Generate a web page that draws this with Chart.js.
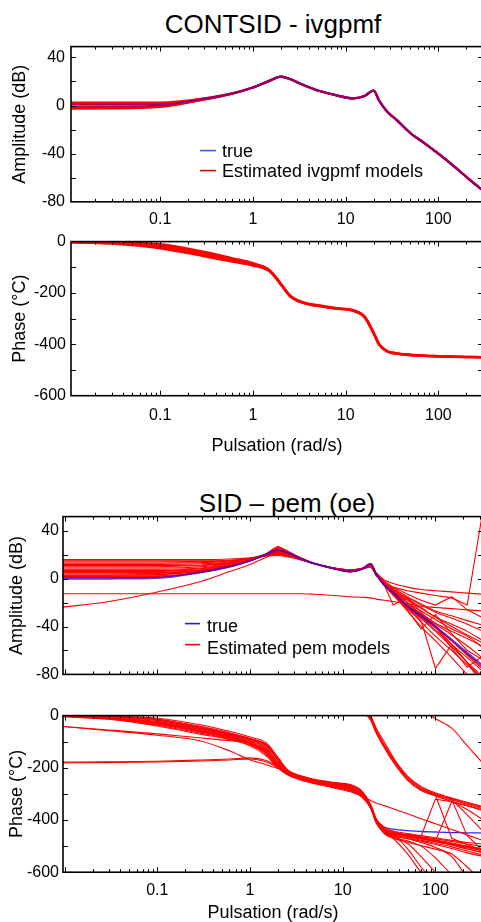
<!DOCTYPE html>
<html><head><meta charset="utf-8">
<script src="https://cdn.jsdelivr.net/npm/chart.js@4.4.1/dist/chart.umd.min.js"></script>
<style>
html,body{margin:0;padding:0;width:481px;height:922px;overflow:hidden;background:#fff;}
canvas{position:absolute;left:0;top:0;}
.title{position:absolute;font-family:"Liberation Sans",Arial,sans-serif;font-size:26px;line-height:26px;white-space:nowrap;transform:translateX(-50%);color:#000;}
</style></head><body>
<div class="title" style="left:273px;top:11px">CONTSID - ivgpmf</div>
<div class="title" style="left:287px;top:490px">SID – pem (oe)</div>
<canvas id="c1"></canvas><canvas id="c2"></canvas><canvas id="c3"></canvas><canvas id="c4"></canvas>
<script>
// ---------- data ----------
const W = [0.009, 0.03, 0.1, 0.3, 0.6, 1, 1.5, 2, 2.5, 3.5, 5, 8, 12, 16, 20, 23, 28, 35, 50, 70, 100, 150, 220, 330];

const trueAmp   = [0, 0.1, 0.6, 5.5, 10, 15, 20.5, 24, 22, 17, 12.5, 8.5, 6, 8, 12.5, 4, -5, -11.5, -23, -31, -40, -51, -62, -73];
const truePhase = [-1, -4, -15, -50, -72, -90, -112, -165, -210, -238, -249, -260, -268, -293, -355, -400, -427, -435, -441, -444, -446, -448, -449, -450];

const ivgAmp1 = [2.5, 2.5, 2.4, 6, 10.2, 15, 20.5, 24, 22, 17, 12.5, 8.5, 6, 8, 12.5, 4, -5, -11.5, -23, -31, -40, -51, -62, -73];
const ivgAmp2 = [1.2, 1.2, 1.5, 5.8, 10.1, 15, 20.5, 24, 22, 17, 12.5, 8.5, 6, 8, 12.5, 4, -5, -11.5, -23, -31, -40, -51, -62, -73];
const ivgAmp3 = [-1.2, -1.1, -0.3, 5.2, 9.9, 15, 20.5, 24, 22, 17, 12.5, 8.5, 6, 8, 12.5, 4, -5, -11.5, -23, -31, -40, -51, -62, -73];
const ivgAmp4 = [-2.5, -2.4, -1.2, 5, 9.8, 15, 20.5, 24, 22, 17, 12.5, 8.5, 6, 8, 12.5, 4, -5, -11.5, -23, -31, -40, -51, -62, -73];

const ivgPh1 = [0, -2, -10, -40, -65, -84, -110, -164, -209, -237, -248, -259, -267, -292, -354, -399, -426, -434, -440, -444, -446, -448, -449, -450];
const ivgPh2 = [-1, -4, -15, -46, -70, -88, -112, -165, -210, -238, -249, -260, -268, -293, -355, -400, -427, -435, -441, -444, -446, -448, -449, -450];
const ivgPh3 = [-1, -6, -21, -52, -75, -91, -113, -166, -211, -239, -250, -261, -269, -294, -356, -401, -428, -436, -442, -445, -447, -449, -450, -451];
const ivgPh4 = [-2, -8, -26, -57, -78, -93, -115, -167, -212, -239, -250, -261, -269, -294, -357, -402, -428, -436, -442, -445, -447, -449, -450, -451];

const pemA1  = [1, 1, 1.5, 5.5, 10, 15, 20.5, 24.5, 22, 17, 12.5, 8.5, 6, 8, 12, 4, -5, -12, -24, -33, -43, -55, -66, -78];
const pemA2  = [3, 3, 3.5, 6.5, 10.5, 15, 20, 23.5, 21.5, 17, 12.5, 8.5, 6.5, 8, 11.5, 3, -6, -13, -25, -36, -48, -60, -72, -84];
const pemA3  = [5, 5, 5, 7, 11, 15.5, 20, 23, 21, 16.5, 12.5, 9, 7, 8.5, 11, 3, -4, -10, -18, -25, -32, -38, -44, -52];
const pemA4  = [7, 7, 7, 8.5, 12, 16, 20, 22.5, 21, 16.5, 12.5, 9, 7, 8.5, 11, 4, -3, -9, -16, -22, -28, -33, -38, -44];
const pemA5  = [9, 9, 9, 10, 13, 16.5, 20, 22, 20.5, 16.5, 12.5, 9, 7, 8.5, 10.5, 3, -4, -13, -22, -30, -38, -47, -56, -67];
const pemA6  = [11, 11, 11, 11.5, 13.5, 17, 20.5, 22.5, 21, 17, 12.5, 9, 7, 8.5, 11, 4, -5, -22, -16, -28, -40, -52, -64, -76];
const pemA7  = [13, 13, 13, 13.5, 14.5, 17, 20, 21.5, 20, 16.5, 12.5, 9, 7, 8, 10, 4, -2, -7, -13, -18, -22, -15, -26, -33];
const pemA8  = [15, 15, 15, 15, 15.5, 17, 19, 20, 19, 16, 12.5, 9, 7.5, 8.5, 10, 5, -1, -4, -7, -9, -10, -11, -12, -13];
const pemA9  = [16, 16, 16, 16, 16.5, 17.5, 19, 19.5, 18.5, 16, 12.5, 9, 7, 8, 10, 3, -4, -10, -20, -30, -40, -55, -70, -82];
const pemA10 = [2, 2, 2.5, 5.5, 10.5, 15.5, 21, 26.5, 23.5, 17.5, 12.5, 8.5, 6, 8, 12.5, 4, -5, -12, -23, -32, -41, -52, -63, -75];
const pemA11 = [4, 4, 4.5, 6.5, 11, 15.5, 20.5, 25, 22, 17, 12.5, 8.5, 6, 8, 12, 4, -5, -14, -26, -42, -30, -46, -60, -68];
const pemA12 = [6, 6, 6, 7.5, 11.5, 16, 21, 27, 23, 17.5, 12.5, 8.5, 6, 8, 12, 4, -5, -11, -22, -31, -40, -58, -74, -64];
const pemA13 = [8, 8, 8, 9, 12.5, 16.5, 20.5, 23, 21.5, 17, 12.5, 8.5, 6.5, 8, 11, 3, -5, -12, -22, -29, -37, -44, -50, -57];
const pemA14 = [12, 12, 12, 12.5, 14, 17, 20, 21, 20, 16.5, 12.5, 9, 7, 8.5, 10.5, 3, -3, -8, -15, -21, -27, -31, -35, -39];
const pemA15 = [14, 14, 14, 14.5, 15, 17, 19.5, 20.5, 19.5, 16, 12.5, 9, 7, 8, 10, 3, -4, -9, -17, -24, -32, -40, -47, -54];
const pemA16 = [-24, -19, -11, -2, 6, 12, 18, 22, 21, 17, 12.5, 8.5, 6, 8, 12, 4, -5, -12, -23, -33, -44, -57, -70, -85];
const pemA17 = [-12.5, -12.5, -12.5, -12.5, -12.5, -12.5, -12.5, -12.5, -12.5, -12.5, -13, -14, -15, -15.5, -16, -17, -18, -19, -21, -23, -24, -25, -26, -27];
const pemA18 = [10, 10, 10, 11, 13, 16.5, 20.5, 23, 21, 17, 12.5, 9, 7, 8.5, 11, 3, -4, -7, -10, -12, -14, -16, -22, 60];
const pemA19 = [3, 3, 3.5, 6, 10.5, 15.5, 20.5, 24, 22, 17, 12.5, 8.5, 6, 8, 12, 4, -5, -12, -24, -35, -75, -55, -70, -90];
const pemA20 = [1.5, 1.5, 2, 5.5, 10, 15, 20.5, 25.5, 22.5, 17, 12.5, 8.5, 6, 8, 12.5, 4, -5, -13, -27, -40, -52, -66, -80, -92];
const pemA21 = [5, 5, 5, 7, 11, 15.5, 20.5, 24, 22, 17, 12.5, 8.5, 6, 8, 12, 4, -5, -11, -20, -27, -34, -42, -48, -58];

const pemP1  = [0, -3, -10, -36, -60, -82, -105, -160, -205, -230, -244, -256, -264, -288, -340, -395, -428, -442, -452, -460, -468, -478, -486, -492];
const pemP2  = [0, -5, -16, -45, -68, -90, -115, -172, -210, -236, -249, -261, -272, -298, -344, -400, -432, -445, -456, -464, -472, -482, -492, -502];
const pemP3  = [-1, -7, -22, -52, -75, -97, -125, -180, -214, -238, -252, -265, -277, -302, -347, -404, -436, -449, -460, -468, -478, -490, -502, -514];
const pemP4  = [-2, -9, -28, -58, -80, -104, -135, -188, -218, -241, -255, -269, -282, -305, -349, -406, -440, -453, -463, -472, -483, -496, -511, -525];
const pemP5  = [-3, -12, -34, -64, -86, -110, -145, -195, -222, -244, -258, -273, -287, -308, -352, -409, -444, -457, -467, -477, -489, -503, -519, -535];
const pemP6  = [-4, -14, -40, -72, -92, -116, -155, -200, -226, -247, -261, -277, -292, -311, -355, -412, -448, -461, -471, -481, -494, -509, -526, -540];
const pemP7  = [0, -6, -19, -48, -71, -93, -120, -168, -208, -234, -247, -259, -268, -292, -345, -402, -442, -470, -530, -600, -650, -680, -700, -720];
const pemP8  = [-1, -8, -25, -55, -77, -100, -130, -178, -213, -238, -251, -263, -274, -298, -348, -405, -446, -462, -490, -540, -600, -650, -680, -700];
const pemP9  = [-2, -10, -31, -61, -83, -107, -140, -190, -220, -242, -256, -270, -284, -304, -350, -407, -450, -466, -480, -500, -545, -610, -660, -700];
const pemP10 = [-1, -11, -30, -60, -84, -108, -142, -184, -216, -239, -253, -266, -279, -301, -351, -408, -447, -460, -472, -486, -505, -540, -620, -680];
const pemP11 = [0, -4, -14, -42, -66, -88, -112, -165, -207, -232, -246, -258, -266, -290, -343, -398, -435, -455, -510, -580, -640, -680, -700, -720];
const pemP12 = [-2, -13, -37, -68, -89, -113, -150, -198, -224, -245, -259, -275, -289, -309, -353, -410, -452, -470, -485, -498, -512, -530, -580, -640];
const pemP13 = [null, null, null, null, null, null, null, null, null, null, null, null, null, 30, -10, -60, -115, -170, -240, -280, -302, -322, -340, -358];
const pemP14 = [null, null, null, null, null, null, null, null, null, null, null, null, null, 40, 0, -48, -100, -160, -232, -272, -296, -316, -332, -350];
const pemP15 = [null, null, null, null, null, null, null, null, null, null, null, null, null, 20, -18, -68, -122, -178, -248, -287, -308, -330, -360, -400];
const pemP16 = [null, null, null, null, null, null, null, null, null, null, null, null, null, 35, -5, -55, -110, -165, -236, -276, -300, -325, -380, -445];
const pemP17 = [null, null, null, null, null, null, null, null, null, null, null, null, null, 25, -12, -63, -118, -174, -244, -284, -306, -318, -336, -352];
const pemP18 = [null, null, null, null, null, null, null, null, null, null, null, null, null, null, null, null, null, null, -455, -462, -320, -330, -345, -365];
const pemP19 = [null, null, null, null, null, null, null, null, null, null, null, null, null, null, null, null, null, null, null, -470, -480, -330, -345, -362];
const pemP20 = [null, null, null, null, null, null, null, null, null, null, null, null, null, null, null, null, null, null, null, -282, -305, -470, -495, -515];
const pemP21 = [null, null, null, null, null, null, null, null, null, null, null, null, null, null, null, null, null, null, null, null, -300, -322, -460, -520];
const pemP22 = [null, null, null, null, null, null, null, null, null, null, null, null, null, null, null, null, null, null, 70, 22, -12, -48, -115, -185];
const pemP23 = [-2, -9, -28, -58, -80, -104, -135, -188, -218, -241, -255, -269, -282, -306, -325, -335, -345, -357, -376, -395, -414, -436, -457, -479];
const pemP24 = [-41, -58, -75, -98, -135, -170, -188, -203, -218, -240, -254, -268, -280, -303, -348, -405, -440, -452, -462, -470, -480, -492, -505, -518];
const pemP25 = [-41, -55, -70, -86, -96, -104, -140, -190, -217, -240, -254, -268, -280, -303, -348, -405, -440, -452, -462, -470, -480, -492, -505, -518];
const pemP26 = [-178, -177, -175, -170, -166, -162, -172, -196, -214, -238, -252, -265, -277, -302, -347, -404, -436, -449, -458, -466, -476, -488, -500, -512];
const pemP27 = [-181, -180, -178, -174, -170, -166, -178, -199, -216, -240, -254, -268, -282, -305, -349, -406, -440, -453, -463, -472, -483, -496, -511, -525];

const ivgAmpSeries = [ivgAmp1, ivgAmp2, ivgAmp3, ivgAmp4];
const ivgPhSeries = [ivgPh1, ivgPh2, ivgPh3, ivgPh4];
const pemAmpSeries = [pemA1, pemA2, pemA3, pemA4, pemA5, pemA6, pemA7, pemA8, pemA9, pemA10, pemA11, pemA12, pemA13, pemA14, pemA15, pemA16, pemA17, pemA18, pemA19, pemA20, pemA21];
const pemPhSeries = [pemP1, pemP2, pemP3, pemP4, pemP5, pemP6, pemP7, pemP8, pemP9, pemP10, pemP11, pemP12, pemP13, pemP14, pemP15, pemP16, pemP17, pemP18, pemP19, pemP20, pemP21, pemP22, pemP23, pemP24, pemP25, pemP26, pemP27];
const pemAmpSharp = [pemA6, pemA7, pemA11, pemA12, pemA18, pemA19];
const pemPhSharp = [pemP18, pemP19, pemP20, pemP21];

const xTickValues = [0.1, 1, 10, 100];
const xTickLabels = ['0.1', '1', '10', '100'];
const ampTickValues = [-80, -40, 0, 40];
const ampTickLabels = ['-80', '-40', '0', '40'];
const phTickValues = [-600, -400, -200, 0];
const phTickLabels = ['-600', '-400', '-200', '0'];
const ampMarks = [-60, -40, -20, 0, 20, 40];
const phMarks = [-500, -400, -300, -200, -100];
const legend1Labels = ['true', 'Estimated ivgpmf models'];
const legend2Labels = ['true', 'Estimated pem models'];

// ---------- rendering ----------
const FONT = "'Liberation Sans', Arial, Helvetica, sans-serif";
const RED = '#ff0000';
Chart.defaults.font.family = FONT;
Chart.defaults.color = '#000';
Chart.defaults.animation = false;

const xMarks = [];
for (let e = -3; e <= 3; e++) for (let m = 1; m <= 9; m++) xMarks.push({v: m * Math.pow(10, e), major: m === 1});

// note: Chart.js paints the first dataset on top
function ds(vals, color, width, sharp) {
  const d = {data: W.map((w, i) => ({x: w, y: vals[i]})), borderColor: color, borderWidth: width,
    pointRadius: 0, fill: false, spanGaps: false};
  if (sharp) { d.tension = 0; } else { d.cubicInterpolationMode = 'monotone'; }
  return d;
}

function framePlugin(target, yMarks, legend) {
  return {id: 'frame', afterDraw(chart) {
    const ctx = chart.ctx, a = chart.chartArea, x = chart.scales.x, y = chart.scales.y;
    ctx.save();
    ctx.strokeStyle = '#000'; ctx.lineWidth = 1;
    ctx.beginPath();
    for (const t of xMarks) {
      const px = Math.round(x.getPixelForValue(t.v)) + 0.5;
      if (px <= a.left + 1 || px >= a.right - 1) continue;
      const L = t.major ? 5 : 3;
      ctx.moveTo(px, a.bottom); ctx.lineTo(px, a.bottom - L);
      ctx.moveTo(px, a.top); ctx.lineTo(px, a.top + L);
    }
    for (const v of yMarks) {
      const py = Math.round(y.getPixelForValue(v)) + 0.5;
      if (py <= a.top + 1 || py >= a.bottom - 1) continue;
      ctx.moveTo(a.left, py); ctx.lineTo(a.left + 5, py);
      ctx.moveTo(a.right, py); ctx.lineTo(a.right - 5, py);
    }
    ctx.stroke();
    ctx.lineWidth = 1.6;
    ctx.strokeRect(a.left, a.top, a.right - a.left, a.bottom - a.top);
    if (legend) {
      const cx = v => v - target.x + a.left, cy = v => v - target.y + a.top;
      ctx.font = '18px ' + FONT; ctx.textBaseline = 'middle'; ctx.textAlign = 'left'; ctx.fillStyle = '#000';
      legend.labels.forEach((txt, i) => {
        ctx.strokeStyle = legend.colors[i]; ctx.lineWidth = 1.6;
        ctx.beginPath(); ctx.moveTo(cx(legend.x0), cy(legend.lineY[i])); ctx.lineTo(cx(legend.x1), cy(legend.lineY[i])); ctx.stroke();
        ctx.fillText(txt, cx(legend.tx), cy(legend.textY[i]));
      });
    }
    ctx.restore();
  }};
}

function makeConfig(p) {
  return {
    type: 'line',
    data: {datasets: p.datasets},
    options: {
      responsive: false, maintainAspectRatio: false, devicePixelRatio: 1, animation: false,
      layout: {padding: 0},
      plugins: {legend: {display: false}, tooltip: {enabled: false}, title: {display: false}},
      scales: {
        x: {type: 'logarithmic', min: p.xmin, max: p.xmax, position: 'bottom',
          afterBuildTicks: s => { s.ticks = xTickValues.map(v => ({value: v})); },
          ticks: {display: p.showX, autoSkip: false, maxRotation: 0, padding: p.xPad, color: '#000',
            font: {size: 16, family: FONT}, callback: v => xTickLabels[xTickValues.indexOf(v)]},
          grid: {display: false, drawTicks: false}, border: {display: false},
          title: {display: p.showXTitle, text: 'Pulsation (rad/s)', color: '#000', font: {size: 18, family: FONT},
            padding: {top: p.xTitlePad, bottom: 0}}},
        y: {type: 'linear', min: p.ymin, max: p.ymax,
          afterBuildTicks: s => { s.ticks = p.yTicks.map(v => ({value: v})); },
          afterFit: s => { s.width = p.target.x; },
          ticks: {padding: p.yPad, color: '#000', font: {size: 16, family: FONT},
            callback: v => p.yLabels[p.yTicks.indexOf(v)]},
          grid: {display: false, drawTicks: false}, border: {display: false},
          title: {display: true, text: p.yTitle, color: '#000', font: {size: 18, family: FONT},
            padding: {top: p.yTitlePad, bottom: 0}}}
      }
    },
    plugins: [framePlugin(p.target, p.yMarks, p.legend)]
  };
}

function build(id, p) {
  const canvas = document.getElementById(id);
  const t = p.target;
  let w = t.x + t.w + 10, h = t.h + 80;
  canvas.width = w; canvas.height = h;
  let chart = new Chart(canvas, makeConfig(p));
  for (let k = 0; k < 2; k++) {
    const a = chart.chartArea;
    w = Math.round(w + (t.w - (a.right - a.left)));
    h = Math.round(h + (t.h - (a.bottom - a.top)));
    chart.destroy();
    canvas.width = w; canvas.height = h;
    canvas.style.width = w + 'px'; canvas.style.height = h + 'px';
    chart = new Chart(canvas, makeConfig(p));
  }
  const a = chart.chartArea;
  canvas.style.left = (t.x - a.left) + 'px';
  canvas.style.top = (t.y - a.top) + 'px';
  return chart;
}

// Panel 1: amplitude ivgpmf (true on top, purple where it overlays the red models)
build('c1', {
  target: {x: 71, y: 47, w: 412, h: 155}, xmin: 0.0109, xmax: 303, ymin: -80, ymax: 49,
  yTicks: ampTickValues, yLabels: ampTickLabels, yMarks: ampMarks, yTitle: 'Amplitude (dB)', yTitlePad: 9.7, yPad: 6,
  showX: true, xPad: 8, showXTitle: false, xTitlePad: 0,
  datasets: [ds(trueAmp, 'rgba(20,0,240,0.5)', 2.2), ...ivgAmpSeries.map(s => ds(s, RED, 2.2))],
  legend: {labels: legend1Labels, colors: ['#5050ff', RED], x0: 200, x1: 216, tx: 222, lineY: [151, 171], textY: [152.5, 172.5]}
});
// Panel 2: phase ivgpmf (red models on top)
build('c2', {
  target: {x: 71, y: 242, w: 412, h: 154}, xmin: 0.0109, xmax: 303, ymin: -600, ymax: 0,
  yTicks: phTickValues, yLabels: phTickLabels, yMarks: phMarks, yTitle: 'Phase (°C)', yTitlePad: 9.7, yPad: 5,
  showX: true, xPad: 10, showXTitle: true, xTitlePad: 0.5,
  datasets: [...ivgPhSeries.map(s => ds(s, RED, 2.4)), ds(truePhase, '#0000ff', 1.2)],
  legend: null
});
// Panel 3: amplitude pem (true on top)
build('c3', {
  target: {x: 63, y: 517, w: 420, h: 158}, xmin: 0.0096, xmax: 326, ymin: -80, ymax: 52,
  yTicks: ampTickValues, yLabels: ampTickLabels, yMarks: ampMarks, yTitle: 'Amplitude (dB)', yTitlePad: 6.7, yPad: 4,
  showX: false, xPad: 8, showXTitle: false, xTitlePad: 0,
  datasets: [ds(trueAmp, 'rgba(60,0,210,0.8)', 2), ...pemAmpSeries.map(s => ds(s, RED, 1.1, pemAmpSharp.includes(s)))],
  legend: {labels: legend2Labels, colors: ['#2020e0', RED], x0: 185, x1: 200, tx: 207, lineY: [624, 645], textY: [627, 649]}
});
// Panel 4: phase pem (red models on top of the true curve)
build('c4', {
  target: {x: 63, y: 716, w: 420, h: 157}, xmin: 0.0096, xmax: 326, ymin: -600, ymax: 0,
  yTicks: phTickValues, yLabels: phTickLabels, yMarks: phMarks, yTitle: 'Phase (°C)', yTitlePad: 6.7, yPad: 4,
  showX: true, xPad: 8.5, showXTitle: true, xTitlePad: -6,
  datasets: [...pemPhSeries.map(s => ds(s, RED, 1.1, pemPhSharp.includes(s))), ds(truePhase, '#2a2aff', 1.3)],
  legend: null
});
</script>
</body></html>
